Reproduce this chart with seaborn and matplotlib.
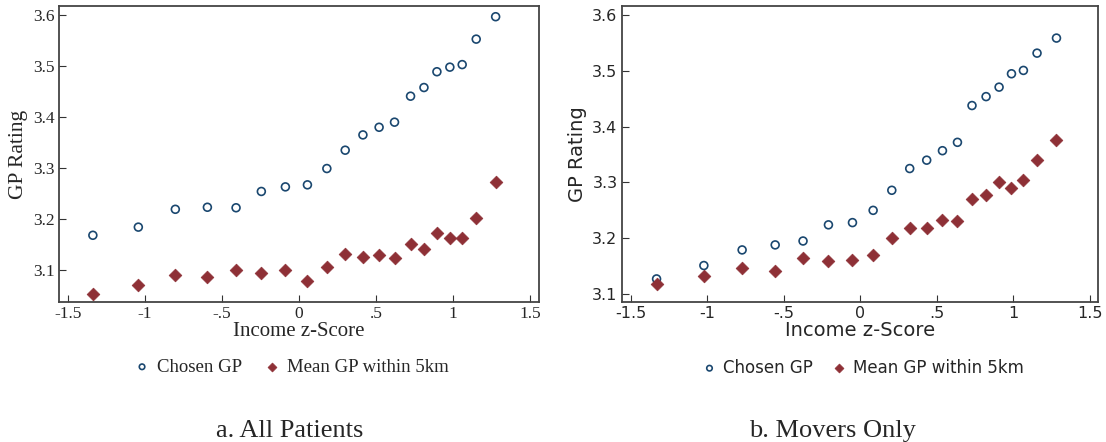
import pandas as pd
import matplotlib.pyplot as plt
import seaborn as sns

# panel a: all patients
x_a = [-1.338, -1.043, -0.803, -0.595, -0.409, -0.245, -0.089, 0.054, 0.180, 0.299,
       0.414, 0.519, 0.619, 0.723, 0.810, 0.894, 0.978, 1.058, 1.149, 1.275]
chosen_a = [3.168, 3.184, 3.219, 3.223, 3.222, 3.254, 3.263, 3.267, 3.299, 3.335,
            3.365, 3.380, 3.390, 3.441, 3.458, 3.489, 3.498, 3.503, 3.553, 3.597]
mean5_a = [3.053, 3.070, 3.091, 3.086, 3.099, 3.094, 3.099, 3.079, 3.105, 3.131,
           3.126, 3.129, 3.124, 3.151, 3.142, 3.172, 3.163, 3.163, 3.202, 3.272]

# panel b: movers only
x_b = [-1.330, -1.021, -0.771, -0.555, -0.373, -0.207, -0.050, 0.085, 0.207, 0.324,
       0.435, 0.538, 0.636, 0.731, 0.823, 0.908, 0.989, 1.067, 1.156, 1.283]
chosen_b = [3.127, 3.151, 3.179, 3.188, 3.195, 3.224, 3.228, 3.250, 3.286, 3.325,
            3.340, 3.357, 3.372, 3.438, 3.454, 3.471, 3.495, 3.501, 3.532, 3.559]
mean5_b = [3.117, 3.133, 3.146, 3.142, 3.165, 3.160, 3.161, 3.170, 3.201, 3.218,
           3.219, 3.233, 3.230, 3.270, 3.277, 3.301, 3.290, 3.304, 3.341, 3.377]

x_ticks = [-1.5, -1, -0.5, 0, 0.5, 1, 1.5]
x_ticklabels = ["-1.5", "-1", "-.5", "0", ".5", "1", "1.5"]
y_ticks = [3.1, 3.2, 3.3, 3.4, 3.5, 3.6]
y_ticklabels = ["3.1", "3.2", "3.3", "3.4", "3.5", "3.6"]

blue = "#1a476f"
red = "#8e3036"

sns.set_style("white")

fig = plt.figure(figsize=(11.06, 4.42), dpi=100)
ax1 = fig.add_axes([0.0533, 0.3167, 0.434, 0.6697])
ax2 = fig.add_axes([0.5621, 0.316, 0.4309, 0.671])

# font sizes differ: panel a is serif, panel b sans
panels = [
    (ax1, x_a, chosen_a, mean5_a, (3.037, 3.618), "Liberation Serif",
     dict(tick=12.5, xlab=15, ylab=15.5, leg=13.5), "a. All Patients", 0.2615, 0.483),
    (ax2, x_b, chosen_b, mean5_b, (3.085, 3.617), "DejaVu Sans",
     dict(tick=11.5, xlab=14, ylab=14, leg=12), "b. Movers Only", 0.7525, 0.505),
]

for ax, xs, ch, mn, ylim, fam, fs, cap, capx, legx in panels:
    df = pd.DataFrame({"x": xs, "chosen": ch, "mean": mn})
    sns.scatterplot(data=df, x="x", y="chosen", ax=ax, marker="o", s=32,
                    facecolor="none", edgecolor=blue, linewidth=1.2, label="Chosen GP")
    sns.scatterplot(data=df, x="x", y="mean", ax=ax, marker="D", s=42,
                    color=red, edgecolor=red, linewidth=0.5, label="Mean GP within 5km")
    ax.set_xlim(-1.558, 1.556)
    ax.set_ylim(*ylim)
    ax.set_xticks(x_ticks)
    ax.set_xticklabels(x_ticklabels, family=fam, fontsize=fs["tick"])
    ax.set_yticks(y_ticks)
    ax.set_yticklabels(y_ticklabels, family=fam, fontsize=fs["tick"])
    ax.tick_params(direction="in", length=5, width=0.8, color="#333333",
                   bottom=True, left=True, top=False, right=False, pad=3)
    for sp in ax.spines.values():
        sp.set_color("#444444")
        sp.set_linewidth(1.3)
    ax.set_xlabel("Income z-Score", family=fam, fontsize=fs["xlab"], labelpad=0)
    ax.set_ylabel("GP Rating", family=fam, fontsize=fs["ylab"], labelpad=4)
    ax.legend(loc="center", bbox_to_anchor=(legx, -0.22), ncol=2, frameon=False,
              prop={"family": fam, "size": fs["leg"]}, handlelength=1.0,
              handletextpad=0.3, columnspacing=1.1, markerscale=0.7)
    fig.text(capx, 0.012, cap, family="Liberation Serif", fontsize=19, ha="center")

fig.savefig("out.png", dpi=100)
